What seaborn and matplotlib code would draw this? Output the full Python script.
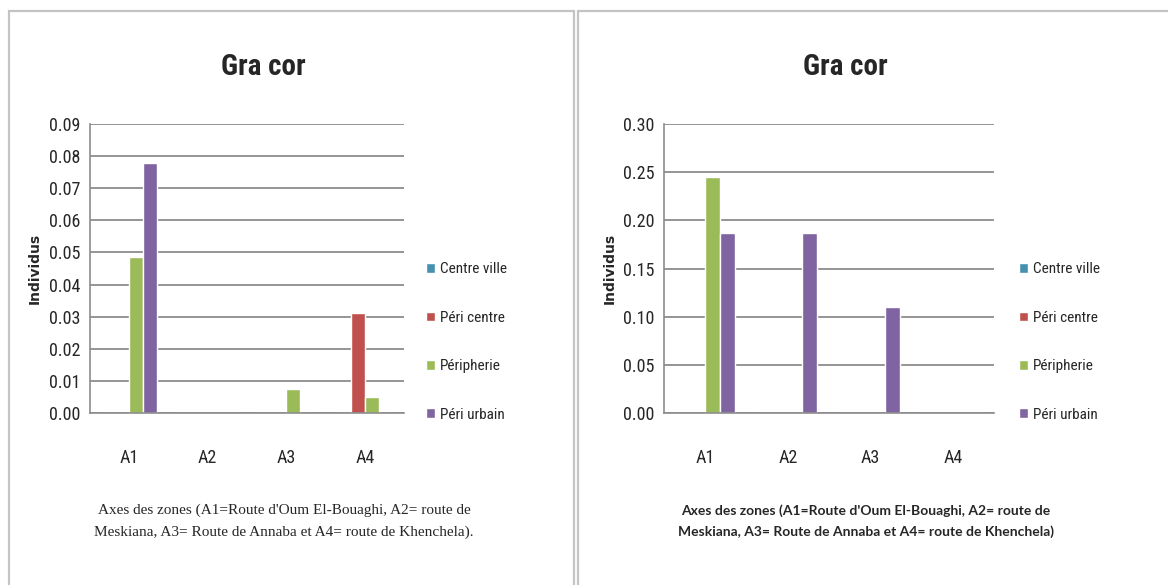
import numpy as np
import pandas as pd
import seaborn as sns
import matplotlib
matplotlib.use('Agg')
import matplotlib.pyplot as plt
from matplotlib import font_manager
from matplotlib.patches import Rectangle

# data
zones = ['A1', 'A2', 'A3', 'A4']
series = ['Centre ville', 'Péri centre', 'Péripherie', 'Péri urbain']
colors = ['#4690B0', '#C0504D', '#9BBB59', '#8064A2']

# left panel
centre_ville_g = [0.0, 0.0, 0.0, 0.0]
peri_centre_g = [0.0, 0.0, 0.0, 0.031]
peripherie_g = [0.0486, 0.0, 0.0075, 0.005]
peri_urbain_g = [0.078, 0.0, 0.0, 0.0]

# right panel
centre_ville_d = [0.0, 0.0, 0.0, 0.0]
peri_centre_d = [0.0, 0.0, 0.0, 0.0]
peripherie_d = [0.245, 0.0, 0.0, 0.0]
peri_urbain_d = [0.187, 0.187, 0.110, 0.0]

yticks_g = [0.00, 0.01, 0.02, 0.03, 0.04, 0.05, 0.06, 0.07, 0.08, 0.09]
yticks_d = [0.00, 0.05, 0.10, 0.15, 0.20, 0.25, 0.30]

title = 'Gra cor'
ylabel = 'Individus'
caption_g = "Axes des zones (A1=Route d'Oum El-Bouaghi, A2= route de\nMeskiana, A3= Route de Annaba et A4= route de Khenchela)."
caption_d = "Axes des zones (A1=Route d'Oum El-Bouaghi, A2= route de\nMeskiana, A3= Route de Annaba et A4= route de Khenchela)"


def long_table(values):
    rows = []
    for s, vals in zip(series, values):
        for z, v in zip(zones, vals):
            rows.append({'zone': z, 'serie': s, 'valeur': v})
    return pd.DataFrame(rows)


df_g = long_table([centre_ville_g, peri_centre_g, peripherie_g, peri_urbain_g])
df_d = long_table([centre_ville_d, peri_centre_d, peripherie_d, peri_urbain_d])

sns.set_style('white')
installed = {f.name for f in font_manager.fontManager.ttflist}
narrow = next((n for n in ['Liberation Sans Narrow', 'DejaVu Sans Condensed', 'Roboto Condensed']
               if n in installed), 'DejaVu Sans')
plt.rcParams['font.family'] = [narrow, 'DejaVu Sans']

W, H = 1168, 585
fig = plt.figure(figsize=(11.68, 5.85), dpi=100)
fig.patch.set_facecolor('white')

# panel frames
for x0, x1 in [(9, 574), (578, 1175)]:
    fig.add_artist(Rectangle((x0 / W, -0.05), (x1 - x0) / W, (H - 11) / H + 0.05,
                             transform=fig.transFigure, fill=False,
                             edgecolor='#c4c4c4', lw=1.6))

grid_col = '#8c8c8c'


def draw_panel(df, yticks, ax_px, title_x, leg_x, ylabelpad):
    x0, x1, ytop, ybot = ax_px
    ax = fig.add_axes([x0 / W, (H - ybot) / H, (x1 - x0) / W, (ybot - ytop) / H])
    sns.barplot(data=df, x='zone', y='valeur', hue='serie', hue_order=series,
                palette=colors, width=0.71, saturation=1, ax=ax)
    ax.set_ylim(yticks[0], yticks[-1])
    ax.set_yticks(yticks)
    ax.set_yticklabels(['%.2f' % t for t in yticks])
    ax.yaxis.grid(True, color=grid_col, lw=1.3)
    ax.set_axisbelow(True)
    for s in ['top', 'right']:
        ax.spines[s].set_visible(False)
    for s in ['left', 'bottom']:
        ax.spines[s].set_color(grid_col)
        ax.spines[s].set_linewidth(1.2)
    ax.tick_params(axis='y', length=4, color=grid_col, labelsize=13, pad=3)
    ax.tick_params(axis='x', length=0, labelsize=13, pad=26)
    ax.set_xlabel('')
    ax.set_ylabel(ylabel, fontsize=10, fontweight='bold', family='DejaVu Sans',
                  labelpad=ylabelpad)

    handles, labels = ax.get_legend_handles_labels()
    ax.legend(handles, labels, loc='center left',
              bbox_to_anchor=(leg_x / W, (H - 342) / H), bbox_transform=fig.transFigure,
              frameon=False, fontsize=11, handlelength=0.6, handleheight=0.6,
              handletextpad=0.3, labelspacing=2.25, borderaxespad=0, borderpad=0)

    fig.text(title_x / W, (H - 67) / H, title, ha='center', va='center',
             fontsize=21, fontweight='bold')
    return ax


ax_g = draw_panel(df_g, yticks_g, (90, 404, 124, 413), 263, 426, 5)
ax_d = draw_panel(df_d, yticks_d, (664, 994, 124, 413), 845, 1019, 4)

# captions: serif on the left, sans on the right
fig.text(284 / W, (H - 521) / H, caption_g, ha='center', va='center',
         family='Liberation Serif', fontsize=11, linespacing=1.85)
fig.text(866 / W, (H - 521) / H, caption_d, ha='center', va='center',
         family=['Lato', 'DejaVu Sans'], fontsize=10, fontweight='bold', linespacing=1.85)

fig.savefig('out.png', dpi=100, facecolor='white')
